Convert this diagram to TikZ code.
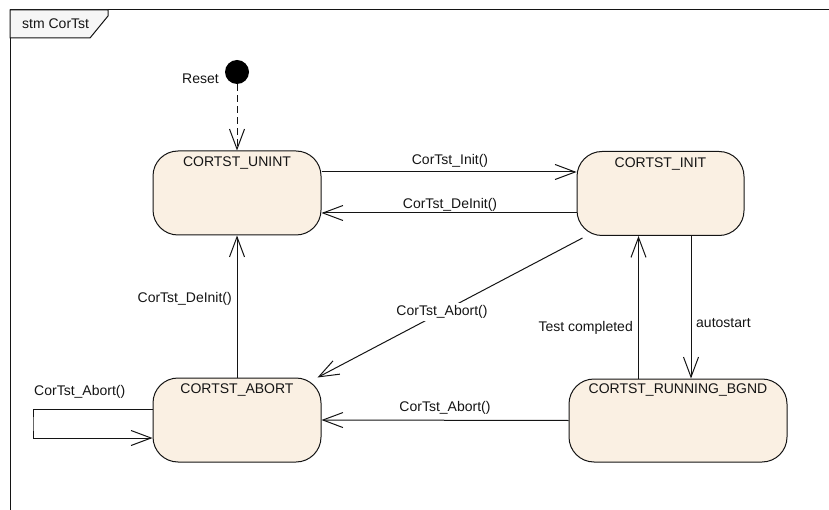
\documentclass[tikz,border=0pt]{standalone}
\usepackage{fontspec}
\setmainfont{Liberation Sans}
\usetikzlibrary{arrows.meta}
\definecolor{stfill}{RGB}{250,240,227}
\definecolor{tabfill}{RGB}{246,246,246}
\definecolor{ink}{RGB}{20,20,20}
\tikzset{
  state/.style={draw=ink, line width=1pt, fill=stfill, rounded corners=25pt,
    minimum height=84pt, inner sep=0pt},
  sname/.style={font=\fontsize{14}{16}\selectfont, text=ink, inner sep=0pt},
  lbl/.style={font=\fontsize{14}{16}\selectfont, text=ink, inner sep=0pt},
  tr/.style={draw=ink, line width=1pt,
    -{Straight Barb[length=20pt,width=15pt,line width=1pt]}},
}
\begin{document}
\begin{tikzpicture}[x=1pt,y=-1pt]
\useasboundingbox (0,0) rectangle (829,510);
\begin{scope}
  \clip (0,0) rectangle (829,510);
  % diagram frame and its name tab
  \draw[ink, line width=1pt] (10,520) -- (10,10) -- (840,10);
  \draw[ink, line width=1pt, fill=tabfill] (10,10) -- (108,10) -- (108,16) -- (90,38) -- (10,38) -- cycle;
\end{scope}
\node[lbl, anchor=west] (frametitle) at (22,24) {stm CorTst};

% initial pseudo state
\node[circle, fill=black, minimum size=24pt, inner sep=0pt] (start) at (237,72) {};
\node[lbl, anchor=east] (resetlbl) at (219,79) {Reset};

% states
\node[state, minimum width=168pt] (unint) at (237,193) {};
\node[state, minimum width=167pt] (init) at (660.5,193.5) {};
\node[state, minimum width=218pt, minimum height=83pt] (run) at (678,420.5) {};
\node[state, minimum width=168pt] (abort) at (237,420) {};
\node[sname] (unintname) at ([yshift=-13pt]unint.north) {CORTST\_UNINT};
\node[sname] (initname) at ([yshift=-13pt]init.north) {CORTST\_INIT};
\node[sname] (runname) at ([yshift=-12pt]run.north) {CORTST\_RUNNING\_BGND};
\node[sname] (abortname) at ([yshift=-13pt]abort.north) {CORTST\_ABORT};

% transitions
\draw[tr, dash pattern=on 7pt off 4pt] (start.south) -- (unint.north);
\draw[tr] ([yshift=21pt]unint.east) -- ([yshift=21.5pt]init.west);
\draw[tr] ([yshift=-19.5pt]init.west) -- ([yshift=-20pt]unint.east);
\draw[tr] ([xshift=-78pt,yshift=-2pt]init.south) -- ([xshift=-4pt]abort.north east);
\draw[tr] (abort.north) -- (unint.south);
\draw[tr] ([xshift=-39.5pt]run.north) -- ([xshift=-22pt]init.south);
\draw[tr] ([xshift=30.5pt]init.south) -- ([xshift=13pt]run.north);
\draw[tr] (run.west) -- (abort.east);
\coordinate (loopc) at (33,424);
\draw[tr] ([yshift=11pt]abort.west) -| (loopc) |- ([yshift=-18pt]abort.west);

% transition labels
\node[lbl] (linit) at (450,161) {CorTst\_Init()};
\node[lbl] (ldeinit) at (450,205) {CorTst\_DeInit()};
\node[lbl, fill=white, inner sep=2pt] (labortd) at (442,312) {CorTst\_Abort()};
\node[lbl, anchor=east] (ldeinitv) at (232,299) {CorTst\_DeInit()};
\node[lbl, anchor=east] (ltest) at (633,328) {Test completed};
\node[lbl, anchor=west] (lauto) at (696,323) {autostart};
\node[lbl] (labortr) at (445,408) {CorTst\_Abort()};
\node[lbl, anchor=west] (lself) at (34,392) {CorTst\_Abort()};
\end{tikzpicture}
\end{document}
